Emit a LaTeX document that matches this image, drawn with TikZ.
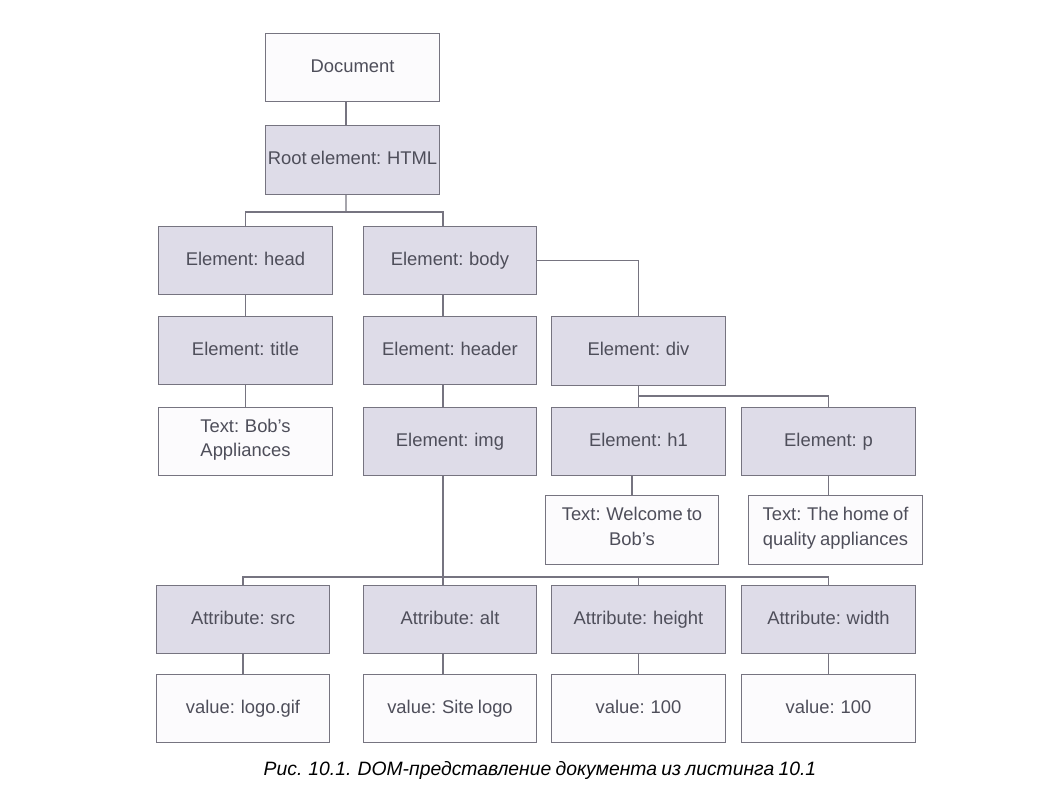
\documentclass[tikz,border=0pt]{standalone}
\usepackage{fontspec}
\setmainfont{Liberation Sans}[WordSpace=0.8]
\usepackage{xcolor}
\definecolor{Col1}{RGB}{118,116,128}
\definecolor{Col2}{RGB}{222,220,232}
\definecolor{Col3}{RGB}{252,251,253}
\definecolor{Col6}{RGB}{78,78,90}
\usepackage{tikz}
\tikzstyle{Box}=[rectangle,draw=Col1,line width=0.8pt,minimum width=130pt,
minimum height=51.5pt,inner sep=1pt,align=center,text=Col6,
font=\fontsize{13.8}{18.5}\selectfont,
execute at begin node=\strut,execute at end node=\strut]
\tikzstyle{Elem}=[Box,fill=Col2]
\tikzstyle{Leaf}=[Box,fill=Col3]
\tikzstyle{Edge}=[draw=Col1,line width=0.8pt]
\tikzstyle{Caption}=[font=\fontsize{14.5}{17}\selectfont\itshape]

\begin{document}
\begin{tikzpicture}[x=0.75pt,y=-0.75pt]
        \useasboundingbox(0,0)rectangle(1057,811);
        \node[Leaf](doc)at(352.5,67.5){Document};
        \node[Elem](root)at(352.5,160){Root element: HTML};
        \node[Elem](head)at(245.5,260.5){Element: head};
        \node[Elem](body)at(450,260.5){Element: body};
        \node[Elem](title)at(245.5,350.5){Element: title};
        \node[Elem](header)at(450,350.5){Element: header};
        \node[Elem](div)at(638.5,351){Element: div};
        \node[Leaf](bob)at(245.5,441.5){Text: Bob's\\Appliances};
        \node[Elem](img)at(450,441.5){Element: img};
        \node[Elem](h1)at(638.5,441.5){Element: h1};
        \node[Elem](p)at(828.5,441.5){Element: p};
        \node[Leaf](welcome)at(632,530){Text: Welcome to\\Bob's};
        \node[Leaf](home)at(835.5,530){Text: The home of\\quality appliances};
        \node[Elem](src)at(243,619.5){Attribute: src};
        \node[Elem](alt)at(450,619.5){Attribute: alt};
        \node[Elem](height)at(638.5,619.5){Attribute: height};
        \node[Elem](width)at(828.5,619.5){Attribute: width};
        \node[Leaf](vsrc)at(243,708.5){value: logo.gif};
        \node[Leaf](valt)at(450,708.5){value: Site logo};
        \node[Leaf](vheight)at(638.5,708.5){value: 100};
        \node[Leaf](vwidth)at(828.5,708.5){value: 100};
        \node[Caption](cap)at(540,770){Рис. 10.1. DOM-представление документа из листинга 10.1};
        \coordinate(rootjoin)at(346,212);
        \coordinate(divjoin)at(638.5,396);
        \coordinate(imgjoin)at(443,577);
        \draw[Edge]([xshift=-4.9pt]doc.south)--([xshift=-4.9pt]root.north);
        \draw[Edge]([xshift=-4.9pt]root.south)--(rootjoin);
        \draw[Edge](head.north)|-(rootjoin);
        \draw[Edge]([xshift=-5.25pt]body.north)|-(rootjoin);
        \draw[Edge](body.east)-|(div.north);
        \draw[Edge](head.south)--(title.north);
        \draw[Edge]([xshift=-5.25pt]body.south)--([xshift=-5.25pt]header.north);
        \draw[Edge](title.south)--(bob.north);
        \draw[Edge]([xshift=-5.25pt]header.south)--([xshift=-5.25pt]img.north);
        \draw[Edge](div.south)--(h1.north);
        \draw[Edge](p.north)|-(divjoin);
        \draw[Edge](welcome.north)--(welcome.north|-h1.south);
        \draw[Edge](p.south)--(p.south|-home.north);
        \draw[Edge]([xshift=-5.25pt]img.south)--([xshift=-5.25pt]alt.north);
        \draw[Edge](src.north)|-(imgjoin);
        \draw[Edge](height.north)|-(imgjoin);
        \draw[Edge](width.north)|-(imgjoin);
        \draw[Edge](src.south)--(vsrc.north);
        \draw[Edge]([xshift=-5.25pt]alt.south)--([xshift=-5.25pt]valt.north);
        \draw[Edge](height.south)--(vheight.north);
        \draw[Edge](width.south)--(vwidth.north);
    \end{tikzpicture}
\end{document}
